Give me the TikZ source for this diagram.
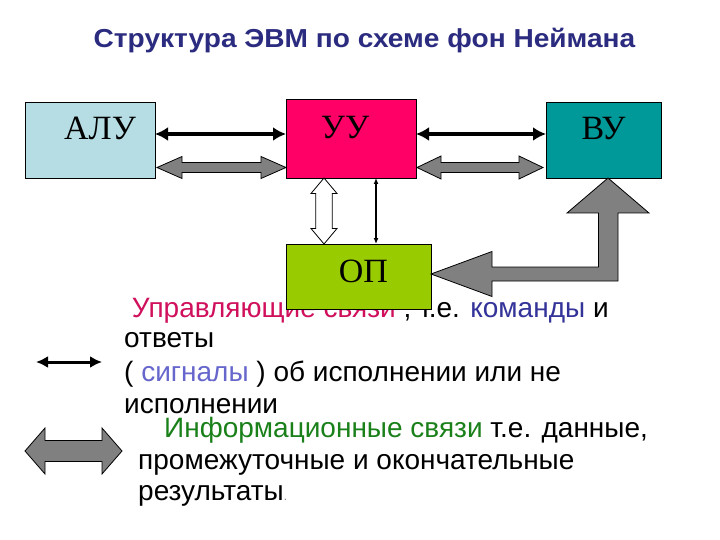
\documentclass[tikz,border=0pt]{standalone}
\usepackage{fontspec}
\setmainfont{Liberation Sans}
\newfontfamily\serifbox{Liberation Serif}
\usetikzlibrary{arrows.meta,calc}
\definecolor{evmTitle}{HTML}{2B2B80}
\definecolor{evmAlu}{HTML}{B7DDE4}
\definecolor{evmUu}{HTML}{FF0066}
\definecolor{evmVu}{HTML}{009999}
\definecolor{evmOp}{HTML}{99CC00}
\definecolor{evmGrey}{HTML}{808080}
\definecolor{evmCtl}{HTML}{D0105C}
\definecolor{evmCmd}{HTML}{333399}
\definecolor{evmSig}{HTML}{6666CC}
\definecolor{evmInf}{HTML}{1A801A}

% double block arrow, left to right: ends, fill, head length, head half, shaft half
\newcommand\hdouble[6]{%
  \filldraw[fill=#3,draw=black,line width=0.8pt] let \p1=(#1), \p2=(#2) in
    (\x1,\y1) -- (\x1+#4,\y1+#5) -- (\x1+#4,\y1+#6) -- (\x2-#4,\y2+#6) -- (\x2-#4,\y2+#5)
    -- (\x2,\y2) -- (\x2-#4,\y2-#5) -- (\x2-#4,\y2-#6) -- (\x1+#4,\y1-#6) -- (\x1+#4,\y1-#5) -- cycle;}
% the same, top to bottom
\newcommand\vdouble[6]{%
  \filldraw[fill=#3,draw=black,line width=0.8pt] let \p1=(#1), \p2=(#2) in
    (\x1,\y1) -- (\x1+#5,\y1-#4) -- (\x1+#6,\y1-#4) -- (\x2+#6,\y2+#4) -- (\x2+#5,\y2+#4)
    -- (\x2,\y2) -- (\x2-#5,\y2+#4) -- (\x2-#6,\y2+#4) -- (\x1-#6,\y1-#4) -- (\x1-#5,\y1-#4) -- cycle;}

\begin{document}
\begin{tikzpicture}[x=1pt,y=-1pt,
  unit/.style={draw,line width=0.8pt,inner sep=0pt,outer sep=0pt,
    font=\serifbox\fontsize{34}{34}\selectfont,text height=23pt,text depth=23pt},
  txt/.style={anchor=base west,inner sep=0pt,font=\fontsize{28}{28}\selectfont},
  ctl/.style={<->,>={Latex[length=13pt,width=14pt]},line width=4pt}]
\path[use as bounding box,fill=white] (0,0) rectangle (720,540);
\node[anchor=base,inner sep=0pt,text=evmTitle,font=\bfseries\fontsize{26}{26}\selectfont]
  (title) at (364.5,48) {\scalebox{1.08}[1]{Структура ЭВМ по схеме фон Неймана}};

% legend text
\node[txt] (l1) at (124,317) {\textcolor{evmCtl}{\ Управляющие связи} , т.е. \textcolor{evmCmd}{команды} и};
\node[txt] (l2) at (124,347) {ответы};
\node[txt] (l3) at (124,381) {( \textcolor{evmSig}{сигналы} ) об исполнении или не};
\node[txt] (l4) at (124,413) {исполнении};
\node[txt] (l5) at (164,437) {\textcolor{evmInf}{Информационные связи} т.е. данные,};
\node[txt] (l6) at (138,469) {промежуточные и окончательные};
\node[txt] (l7) at (138,500) {результаты{\fontsize{12}{12}\selectfont\color{evmGrey}.}};

% units
\node[unit,fill=evmAlu,minimum width=130pt,minimum height=76pt] (alu) at (90,140) {\hspace*{20pt}АЛУ};
\node[unit,fill=evmUu,minimum width=130pt,minimum height=79pt] (uu) at (351,138.5) {УУ\hspace*{12pt}};
\node[unit,fill=evmVu,minimum width=115pt,minimum height=76pt] (vu) at (603.5,140) {ВУ};
\node[unit,fill=evmOp,minimum width=145pt,minimum height=65pt,text depth=11pt] (op) at (358.5,276.5) {\hspace*{10pt}ОП};

\coordinate (ctlrow) at (0,134);
\coordinate (datrow) at (0,167.5);
\coordinate (datcol) at (324,0);
\coordinate (ctlcol) at (376,0);
\coordinate (opin) at ([yshift=2.5pt]op.east);
\coordinate (vuin) at ([xshift=4.5pt]vu.south);

\draw[ctl] (alu.east |- ctlrow) -- (uu.west |- ctlrow);
\draw[ctl] (uu.east |- ctlrow) -- (vu.west |- ctlrow);
\hdouble{$(alu.east |- datrow)+(2,0)$}{uu.west |- datrow}{evmGrey}{25pt}{11pt}{5pt}
\hdouble{$(uu.east |- datrow)+(1,0)$}{$(vu.west |- datrow)+(-3,0)$}{evmGrey}{24pt}{11.5pt}{5pt}
\vdouble{datcol |- uu.south}{datcol |- op.north}{white}{15.5pt}{13pt}{8.3pt}
\draw[<->,>={Latex[length=6pt,width=5pt]},line width=1.2pt] (ctlcol |- uu.south) -- (ctlcol |- op.north);

% data path between memory and devices
\filldraw[fill=evmGrey,draw=black,line width=0.8pt] let \p1=(opin), \p2=(vuin) in
  (\p1) -- (\x1+61pt,\y1+22.5pt) -- (\x1+61pt,\y1+7pt) -- (\x2-9.5pt,\y1+7pt)
  -- (\x2-9.5pt,\y2-35pt) -- (\x2-41pt,\y2-35pt) -- (\p2) -- (\x2+41pt,\y2-35pt)
  -- (\x2+10pt,\y2-35pt) -- (\x2+10pt,\y1-7pt) -- (\x1+61pt,\y1-7pt) -- (\x1+61pt,\y1-22.5pt) -- cycle;

% legend arrows
\coordinate (keyA) at (36,362);
\coordinate (keyB) at (102,362);
\draw[<->,>={Latex[length=12pt,width=12pt]},line width=3pt] (keyA) -- (keyB);
\coordinate (keyC) at (25,451);
\coordinate (keyD) at (122,451);
\hdouble{keyC}{keyD}{evmGrey}{20pt}{23pt}{10.5pt}
\end{tikzpicture}
\end{document}
